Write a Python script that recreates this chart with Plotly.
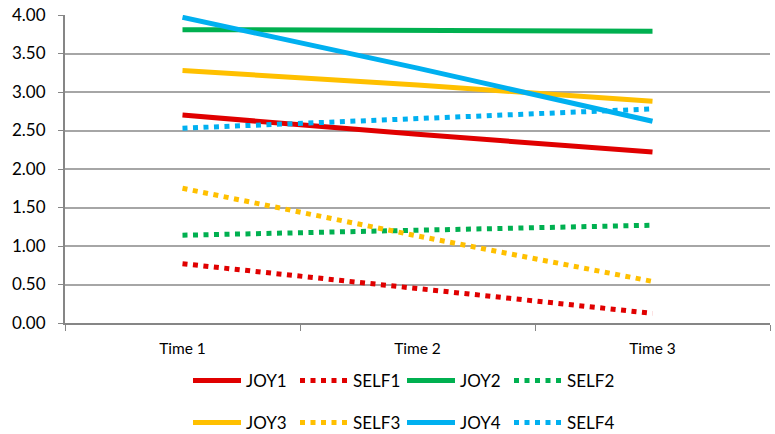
import plotly.graph_objects as go

categories = ["Time 1", "Time 2", "Time 3"]
JOY1 = [2.70, 2.45, 2.22]
JOY2 = [3.81, 3.80, 3.79]
JOY3 = [3.28, 3.09, 2.88]
JOY4 = [3.97, 3.31, 2.62]
SELF1 = [0.77, 0.445, 0.125]
SELF2 = [1.14, 1.21, 1.27]
SELF3 = [1.75, 1.13, 0.54]
SELF4 = [2.53, 2.65, 2.78]
y_ticks = [0, 0.5, 1, 1.5, 2, 2.5, 3, 3.5, 4]

RED, GREEN, YELLOW, BLUE = "#E00000", "#00B050", "#FFC000", "#00B0F0"
DOT = "5px,5.5px"

series = [
    ("JOY1", JOY1, RED, "solid", "legend"),
    ("SELF1", SELF1, RED, DOT, "legend"),
    ("JOY2", JOY2, GREEN, "solid", "legend"),
    ("SELF2", SELF2, GREEN, DOT, "legend"),
    ("JOY3", JOY3, YELLOW, "solid", "legend2"),
    ("SELF3", SELF3, YELLOW, DOT, "legend2"),
    ("JOY4", JOY4, BLUE, "solid", "legend2"),
    ("SELF4", SELF4, BLUE, DOT, "legend2"),
]

fig = go.Figure()
for name, vals, color, dash, leg in series:
    fig.add_trace(go.Scatter(
        x=categories, y=vals, name=name, mode="lines",
        line=dict(color=color, width=5, dash=dash),
        legend=leg,
    ))

FONT = "Lato, Liberation Sans, sans-serif"
leg_common = dict(
    orientation="h", xanchor="center", yanchor="middle",
    xref="container", yref="container",
    font=dict(family=FONT, size=17, color="#000000"),
    bgcolor="rgba(0,0,0,0)",
    entrywidth=44, entrywidthmode="pixels", itemwidth=48,
)

fig.update_layout(
    width=775, height=434,
    margin=dict(l=65, r=5, t=15, b=111, autoexpand=False),
    paper_bgcolor="white", plot_bgcolor="white",
    font=dict(family=FONT, color="#000000"),
    showlegend=True,
    legend=dict(x=402 / 775, y=(434 - 381) / 434, **leg_common),
    legend2=dict(x=402 / 775, y=(434 - 423) / 434, **leg_common),
    xaxis=dict(
        type="category", range=[-0.5, 2.5],
        showline=True, linecolor="#868686", linewidth=2,
        ticks="outside", tickson="boundaries", ticklen=6,
        tickcolor="#868686", tickwidth=1,
        showgrid=False, tickfont=dict(size=15.5, family=FONT),
        ticklabelstandoff=10,
    ),
    yaxis=dict(
        range=[0, 4], tickvals=y_ticks, tickformat=".2f",
        showline=True, linecolor="#868686", linewidth=2,
        ticks="outside", ticklen=5, tickcolor="#868686", tickwidth=1,
        showgrid=True, gridcolor="#A6A6A6", gridwidth=2,
        zeroline=False, tickfont=dict(size=17, family=FONT),
        ticklabelstandoff=9,
    ),
)

fig.write_html("out.html", config={"displayModeBar": False},
               post_script="document.body.style.margin='0';")
